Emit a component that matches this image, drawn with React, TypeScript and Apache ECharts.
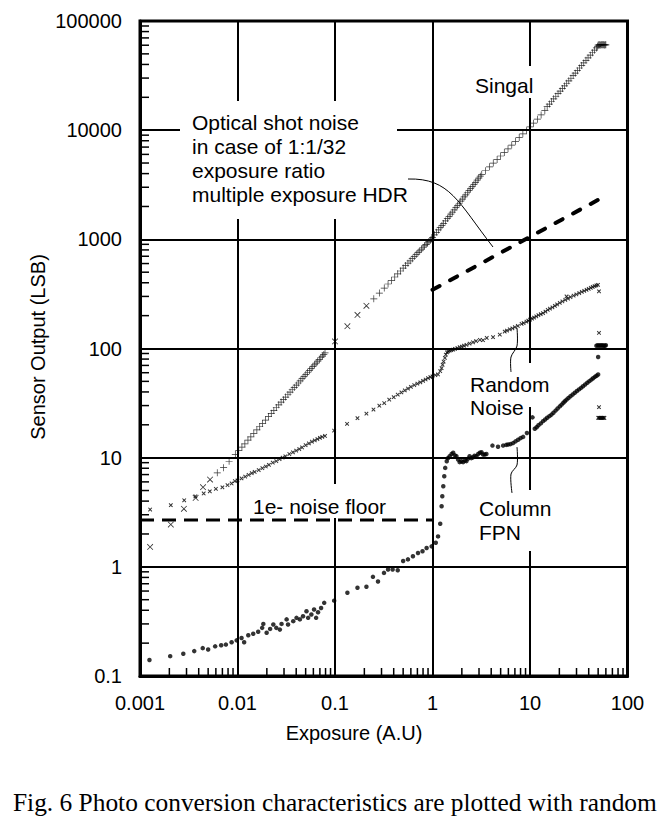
import React, { useEffect, useRef } from 'react';
import * as echarts from 'echarts';

const X_TICK_LABELS = ['0.001', '0.01', '0.1', '1', '10', '100'];
const Y_TICK_LABELS = ['0.1', '1', '10', '100', '1000', '10000', '100000'];
const MINOR_STEPS = [2, 3, 4, 5, 6, 7, 8, 9];

// Signal, the few points drawn as "x"
const signalCross: [number, number][] = [
  [0.00127, 1.52], [0.00207, 2.44], [0.00282, 3.4], [0.00372, 4.28], [0.00443, 5.36], [0.00523, 6.3],
  [0.1, 116], [0.134, 160], [0.17, 203], [0.21, 246],
];

// Signal, "+" markers
const signalPlus: [number, number][] = [
  [0.0062, 7.26], [0.0072, 8.1], [0.0082, 9.27], [0.0095, 10.7], [0.0103, 11.6], [0.0111, 12.5],
  [0.0119, 13.4], [0.0128, 14.5], [0.0137, 15.5], [0.0147, 16.7], [0.0158, 18.0], [0.0169, 19.2],
  [0.0181, 20.6], [0.0194, 22.1], [0.0208, 23.8], [0.0222, 25.5], [0.0236, 27.1], [0.025, 28.8],
  [0.0265, 30.5], [0.028, 32.3], [0.0296, 34.0], [0.0312, 35.9], [0.0329, 37.9], [0.0346, 39.8],
  [0.0364, 41.9], [0.0382, 44.0], [0.0401, 46.1], [0.042, 48.3], [0.044, 50.6], [0.046, 52.9],
  [0.0481, 55.3], [0.0502, 57.7], [0.0524, 60.3], [0.0546, 62.8], [0.0569, 65.4], [0.0592, 68.1],
  [0.0616, 70.8], [0.064, 73.6], [0.0665, 76.5], [0.069, 79.4], [0.0716, 82.3], [0.0742, 85.3],
  [0.0768, 88.3], [0.079, 91.0],
  [0.25, 285], [0.285, 322], [0.32, 358], [0.35, 390], [0.38, 420], [0.41, 452], [0.44, 483],
  [0.47, 513], [0.5, 545], [0.53, 575], [0.56, 605], [0.59, 636], [0.62, 665], [0.65, 695],
  [0.68, 725], [0.71, 754], [0.74, 783], [0.77, 812], [0.8, 842], [0.83, 871], [0.86, 900],
  [0.89, 928], [0.92, 956], [0.95, 985], [0.98, 1005],
  [1.0, 1040], [1.05, 1100], [1.1, 1160], [1.15, 1220], [1.2, 1280], [1.25, 1340], [1.3, 1400],
  [1.36, 1475], [1.42, 1550], [1.48, 1625], [1.54, 1700], [1.6, 1775], [1.67, 1865], [1.74, 1955],
  [1.81, 2045], [1.88, 2140], [1.95, 2235], [2.03, 2340], [2.11, 2445], [2.19, 2550], [2.28, 2670],
  [2.37, 2790], [2.46, 2910], [2.56, 3050], [2.66, 3185], [2.76, 3325], [2.87, 3480], [2.98, 3635],
  [3.09, 3790], [3.2, 3940],
  [3.5, 4250], [3.85, 4620], [4.2, 4990], [4.6, 5400], [5.0, 5800], [5.45, 6250], [5.95, 6750],
  [6.5, 7300], [7.1, 7900], [7.75, 8550], [8.45, 9250], [9.2, 9900], [10.0, 10700], [10.9, 11600],
  [11.9, 12600], [13.0, 13800], [14.2, 15100],
  [15, 16400], [15.8, 17350], [16.6, 18300], [17.5, 19350], [18.4, 20450], [19.4, 21600],
  [20.4, 22800], [21.5, 24100], [22.6, 25400], [23.8, 26900], [25, 28300], [26.3, 29900],
  [27.7, 31600], [29.1, 33300], [30.6, 35100], [32.2, 37100], [33.9, 39200], [35.6, 41300],
  [37.5, 43600], [39.4, 46000], [41.5, 48600], [43.6, 51200], [45.9, 54100], [48, 56700], [49.5, 58600],
  [50, 60200], [51, 60500], [52, 60500], [53, 60400], [54, 60500], [55, 60600], [56, 60500],
  [57, 60500], [58, 60400], [59, 60500], [60, 60500],
];

// Random noise, small "x" markers
const randomNoise: [number, number][] = [
  [0.00127, 3.35], [0.00207, 3.67], [0.00284, 4.07], [0.0037, 4.43], [0.0045, 4.7], [0.0052, 4.92],
  [0.006, 5.18], [0.007, 5.35], [0.0079, 5.6], [0.0087, 5.8], [0.0094, 6.1], [0.01, 6.2], [0.011, 6.45],
  [0.012, 6.7], [0.013, 6.95], [0.014, 7.2], [0.015, 7.4], [0.0165, 7.7], [0.018, 8.0], [0.0195, 8.3],
  [0.021, 8.6], [0.023, 9.0], [0.025, 9.3], [0.027, 9.7], [0.029, 10.0], [0.031, 10.3], [0.034, 10.8],
  [0.037, 11.2], [0.04, 11.6], [0.043, 12.0], [0.046, 12.4], [0.05, 13.0], [0.054, 13.5], [0.058, 14.0],
  [0.062, 14.4], [0.066, 14.8], [0.07, 15.2], [0.074, 15.5], [0.079, 15.8],
  [0.098, 17.7], [0.133, 20.4], [0.17, 23], [0.21, 25.3], [0.248, 27.6], [0.285, 29.9], [0.32, 31.6],
  [0.36, 34], [0.4, 35.8], [0.44, 37.8], [0.48, 39.6], [0.52, 41.3], [0.56, 43], [0.6, 44.6],
  [0.65, 46.2], [0.7, 47.6], [0.75, 49], [0.8, 50.6], [0.85, 52], [0.9, 53.5], [0.95, 54.8],
  [1.0, 55.6], [1.07, 57], [1.14, 57.8], [1.2, 62], [1.24, 66], [1.27, 71], [1.3, 76], [1.34, 82],
  [1.37, 88], [1.41, 92], [1.45, 94], [1.5, 95.5], [1.56, 96.5], [1.63, 97.5], [1.7, 99], [1.8, 101],
  [1.9, 103], [2.0, 104], [2.1, 106], [2.23, 108], [2.4, 111], [2.6, 114], [2.8, 117], [3.06, 120],
  [3.3, 119], [3.6, 125], [4.18, 127], [4.9, 134], [5.5, 143], [5.8, 146], [6.2, 150], [6.6, 153],
  [7.0, 157], [7.5, 161], [8.2, 168], [8.6, 171], [9.2, 176], [9.6, 180], [10, 184], [10.5, 188],
  [11, 192], [11.6, 197], [12.2, 202], [12.9, 206], [13.6, 211], [14.4, 218], [15.2, 226], [16, 232],
  [17, 238], [18, 246], [19, 253], [20.2, 262], [21.5, 270], [23, 279], [23.7, 300], [24.5, 287],
  [26, 296], [28, 305], [29.9, 313], [32, 322], [34, 330], [36, 337], [38, 345], [40, 352], [42, 360],
  [44, 366], [46, 372], [48, 378], [49.8, 383],
  [51, 334], [51, 139], [51, 29],
  [50, 23.2], [51, 23.2], [52, 23.1], [53, 23.2], [54, 23.2], [55, 23.1], [56, 23.2], [57, 23.2], [58, 23.1],
];

// Column FPN, dots
const columnFpn: [number, number][] = [
  [0.00125, 0.14], [0.00204, 0.152], [0.00278, 0.16], [0.0036, 0.169], [0.0044, 0.18], [0.005, 0.175],
  [0.0059, 0.187], [0.0068, 0.191], [0.0076, 0.194], [0.0087, 0.204], [0.0098, 0.212], [0.011, 0.223],
  [0.0117, 0.204], [0.0129, 0.236], [0.0145, 0.244], [0.0163, 0.254], [0.0179, 0.276], [0.0184, 0.3],
  [0.0199, 0.249], [0.0216, 0.27], [0.0233, 0.296], [0.025, 0.276], [0.0272, 0.266], [0.0283, 0.3],
  [0.0319, 0.33], [0.033, 0.296], [0.0373, 0.318], [0.0403, 0.341], [0.0436, 0.33], [0.047, 0.353],
  [0.051, 0.392], [0.053, 0.341], [0.0572, 0.366], [0.061, 0.406], [0.064, 0.341], [0.067, 0.384],
  [0.072, 0.42], [0.0775, 0.468],
  [0.098, 0.49], [0.134, 0.578], [0.17, 0.643], [0.21, 0.656], [0.245, 0.81], [0.276, 0.733],
  [0.318, 0.88], [0.35, 0.945], [0.39, 0.945], [0.44, 0.93], [0.5, 1.13], [0.56, 1.17], [0.63, 1.25],
  [0.71, 1.34], [0.79, 1.39], [0.87, 1.49], [0.98, 1.54], [1.08, 1.66], [1.14, 1.9], [1.2, 2.48],
  [1.24, 3.59], [1.26, 4.43], [1.29, 5.47], [1.32, 6.76], [1.35, 8.06], [1.4, 9.27], [1.44, 9.9],
  [1.5, 10.3], [1.57, 10.8], [1.63, 11.1], [1.7, 10.5], [1.76, 10.3], [1.83, 9.6], [1.9, 9.1],
  [1.98, 9.27], [2.06, 9.1], [2.15, 9.4], [2.23, 9.3], [2.32, 9.8], [2.4, 10.3], [2.5, 9.9], [2.6, 10.1],
  [2.7, 10.4], [2.82, 10.3], [2.94, 10.8], [3.06, 11.1], [3.18, 11.2], [3.3, 10.7], [3.43, 10.7],
  [3.57, 10.8], [4.12, 12.9], [4.7, 12.6], [5.3, 12.9], [5.7, 13.1], [5.97, 13.2], [6.3, 13.3],
  [6.7, 13.6], [7.1, 14.1], [7.55, 14.6], [8.0, 15.1], [8.5, 15.5], [9.3, 16.8], [10.6, 23.4],
  [11.2, 18.4], [11.7, 19.0], [12.2, 19.8], [12.9, 20.6], [13.6, 21.6], [14.3, 22.4], [15, 23.2],
  [15.8, 24.0], [16.6, 24.8], [17.4, 25.8], [18.3, 27], [19.2, 28.2], [20.2, 29.5], [21.1, 30.6],
  [22, 31.8], [22.8, 32.9], [23.7, 34], [24.8, 35.2], [26, 36.5], [27.4, 37.9], [28.8, 39.3],
  [30.3, 40.8], [31.8, 42.2], [33.4, 43.6], [35, 45.1], [36.8, 46.8], [38.7, 48.5], [40.6, 50.2],
  [42.6, 51.9], [44.4, 53.4], [46.3, 55], [48.2, 56.3], [50, 57.7],
  [50, 83.6],
  [48, 106], [49.5, 107], [51, 106], [52.5, 107], [54, 106], [55.5, 107], [57, 106], [58.5, 106], [60, 107],
];

const shotNoiseLine: [number, number][] = [[1, 345], [50, 2300]];
const noiseFloorLine: [number, number][] = [[0.001, 2.69], [1, 2.69]];

const xMinorTicks: [number, number][] = [];
for (let d = -3; d < 2; d++) MINOR_STEPS.forEach((k) => xMinorTicks.push([k * Math.pow(10, d), 0.1]));
const yMinorTicks: [number, number][] = [];
for (let d = -1; d < 5; d++) MINOR_STEPS.forEach((k) => yMinorTicks.push([0.001, k * Math.pow(10, d)]));

const PLUS_THIN = 'path://M9,0H11V9H20V11H11V20H9V11H0V9H9Z';
const PLUS_BOLD = 'path://M8,0H12V8H20V12H12V20H8V12H0V8H8Z';
const SANS = '"Liberation Sans", Arial, sans-serif';

const App: React.FC = () => {
  const chartRef = useRef<HTMLDivElement | null>(null);

  useEffect(() => {
    if (!chartRef.current) return;
    const chart = echarts.init(chartRef.current, null, { renderer: 'svg' });

    const label = (text: string, x: number, y: number, lineHeight = 24) => ({
      type: 'text',
      x,
      y,
      z: 5,
      style: { text, font: `21px ${SANS}`, fill: '#000', lineHeight, verticalAlign: 'top' },
    });
    const mask = (x: number, y: number, width: number, height: number) => ({
      type: 'rect',
      z: 1,
      shape: { x, y, width, height },
      style: { fill: '#fff' },
    });

    const option = {
      animation: false,
      backgroundColor: '#fff',
      grid: { left: 140, right: 42.5, top: 21, bottom: 146, show: true, borderColor: '#000', borderWidth: 3 },
      xAxis: {
        type: 'log',
        logBase: 10,
        min: 0.001,
        max: 100,
        splitNumber: 5,
        axisLine: { show: true, onZero: false, lineStyle: { color: '#000', width: 3 } },
        axisTick: { show: false },
        axisLabel: {
          margin: 17,
          color: '#000',
          fontSize: 20,
          fontFamily: SANS,
          formatter: (v: number) => X_TICK_LABELS[Math.round(Math.log10(v)) + 3],
        },
        splitLine: { show: true, lineStyle: { color: '#000', width: 2 } },
      },
      yAxis: {
        type: 'log',
        logBase: 10,
        min: 0.1,
        max: 100000,
        splitNumber: 6,
        axisLine: { show: true, onZero: false, lineStyle: { color: '#000', width: 3 } },
        axisTick: { show: false },
        axisLabel: {
          margin: 18,
          color: '#000',
          fontSize: 20,
          fontFamily: SANS,
          formatter: (v: number) => Y_TICK_LABELS[Math.round(Math.log10(v)) + 1],
        },
        splitLine: { show: true, lineStyle: { color: '#000', width: 2 } },
      },
      series: [
        {
          type: 'custom',
          silent: true,
          z: 4,
          clip: false,
          data: xMinorTicks,
          renderItem: (_p: any, api: any) => {
            const pt = api.coord([api.value(0), api.value(1)]);
            return {
              type: 'line',
              shape: { x1: pt[0], y1: pt[1], x2: pt[0], y2: pt[1] - 8 },
              style: { stroke: '#000', lineWidth: 1.5 },
            };
          },
        },
        {
          type: 'custom',
          silent: true,
          z: 4,
          clip: false,
          data: yMinorTicks,
          renderItem: (_p: any, api: any) => {
            const pt = api.coord([api.value(0), api.value(1)]);
            return {
              type: 'line',
              shape: { x1: pt[0], y1: pt[1], x2: pt[0] + 9, y2: pt[1] },
              style: { stroke: '#000', lineWidth: 1.5 },
            };
          },
        },
        {
          name: 'Noise floor',
          type: 'line',
          data: noiseFloorLine,
          symbol: 'none',
          z: 3,
          lineStyle: { color: '#000', width: 3, type: [14, 8] },
        },
        {
          name: 'Optical shot noise',
          type: 'line',
          data: shotNoiseLine,
          symbol: 'none',
          z: 3,
          lineStyle: { color: '#000', width: 4, type: [8, 12], cap: 'round' },
        },
        {
          name: 'Signal',
          type: 'scatter',
          data: signalPlus,
          symbol: PLUS_THIN,
          symbolSize: 7,
          z: 3,
          itemStyle: { color: '#000' },
        },
        {
          name: 'Signal x',
          type: 'scatter',
          data: signalCross,
          symbol: PLUS_THIN,
          symbolSize: 8,
          symbolRotate: 45,
          z: 3,
          itemStyle: { color: '#000' },
        },
        {
          name: 'Random Noise',
          type: 'scatter',
          data: randomNoise,
          symbol: PLUS_BOLD,
          symbolSize: 5,
          symbolRotate: 45,
          z: 3,
          itemStyle: { color: '#000' },
        },
        {
          name: 'Column FPN',
          type: 'scatter',
          data: columnFpn,
          symbol: 'circle',
          symbolSize: 4.5,
          z: 3,
          itemStyle: { color: '#000' },
        },
      ],
      graphic: [
        mask(180, 101, 217, 118),
        mask(468, 66, 68, 32),
        mask(248, 484, 145, 34),
        mask(466, 363, 80, 44),
        mask(476, 490, 80, 61),
        label('Optical shot noise\nin case of 1:1/32\nexposure ratio\nmultiple exposure HDR', 192, 110, 24.2),
        label('Singal', 475, 73),
        label('1e- noise floor', 253, 494),
        label('Random\nNoise', 470, 373, 23),
        label('Column\nFPN', 479, 497, 23.5),
        {
          type: 'bezierCurve',
          z: 5,
          shape: { x1: 408, y1: 179, cpx1: 450, cpy1: 178, cpx2: 458, cpy2: 202, x2: 493, y2: 247 },
          style: { stroke: '#000', lineWidth: 1, fill: 'none' },
        },
        {
          type: 'polyline',
          z: 5,
          shape: { points: [[517, 328], [517, 346], [511, 357], [511, 372]], smooth: 0.3 },
          style: { stroke: '#000', lineWidth: 1, fill: 'none' },
        },
        {
          type: 'polyline',
          z: 5,
          shape: { points: [[517, 447], [517, 465], [511, 474], [512, 493]], smooth: 0.3 },
          style: { stroke: '#000', lineWidth: 1, fill: 'none' },
        },
        {
          type: 'text',
          x: 354,
          y: 733,
          z: 5,
          style: { text: 'Exposure (A.U)', font: `20px ${SANS}`, fill: '#000', align: 'center', verticalAlign: 'middle' },
        },
        {
          type: 'text',
          x: 38,
          y: 347,
          z: 5,
          rotation: Math.PI / 2,
          style: { text: 'Sensor Output (LSB)', font: `20px ${SANS}`, fill: '#000', align: 'center', verticalAlign: 'middle' },
        },
        {
          type: 'text',
          x: 13,
          y: 802,
          z: 5,
          style: {
            text: 'Fig. 6 Photo conversion characteristics are plotted with random',
            font: '25.4px "Liberation Serif", "Times New Roman", serif',
            fill: '#000',
            verticalAlign: 'middle',
          },
        },
      ],
    };

    chart.setOption(option as any);
    return () => {
      chart.dispose();
    };
  }, []);

  return (
    <div
      ref={chartRef}
      style={{ position: 'fixed', left: 0, top: 0, width: '670px', height: '822px', background: '#fff' }}
    />
  );
};

export default App;
